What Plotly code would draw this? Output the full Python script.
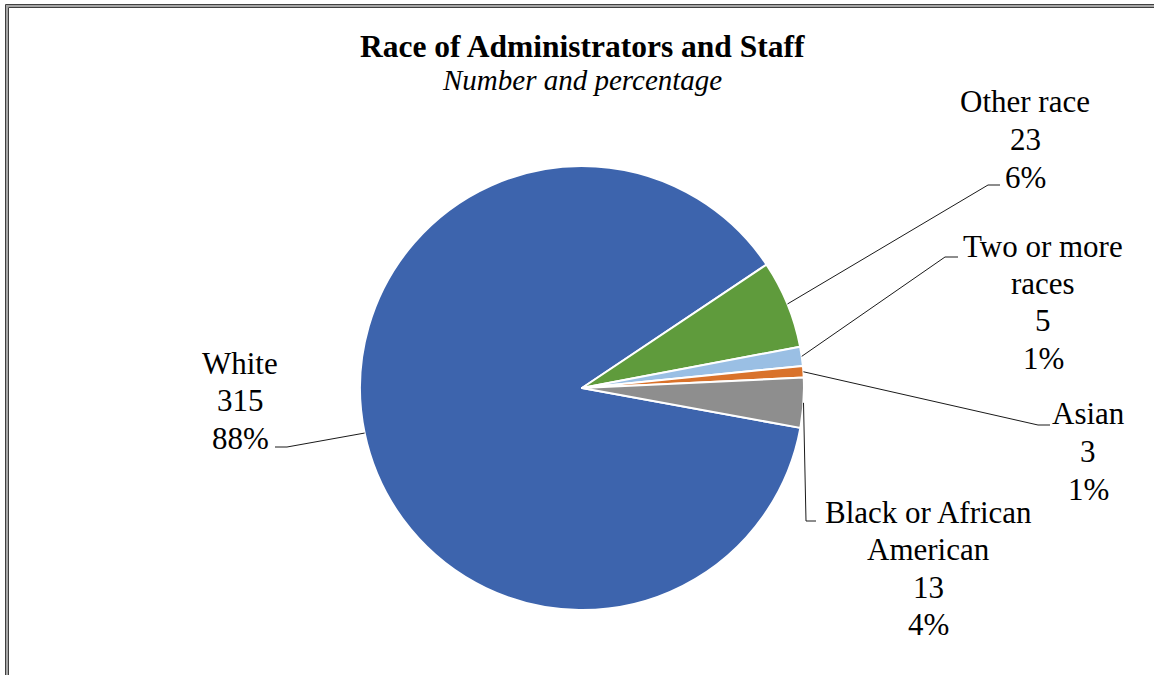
import math
import plotly.graph_objects as go

W, H = 1154, 675

# data
categories = ["White", "Other race", "Two or more races", "Asian", "Black or African American"]
counts = [315, 23, 5, 3, 13]
label_lines = [["White"], ["Other race"], ["Two or more", "races"], ["Asian"], ["Black or African", "American"]]
colors = ["#3D64AD", "#5F9B3C", "#9ABFE4", "#D9722B", "#8E8E8E"]

total = sum(counts)
pcts = [round(v / total * 100) for v in counts]

# pie geometry and label placement (pixels)
cx, cy, r = 582, 388, 222
rotation = 100.35
label_pos = [(240, 363), (1025, 102), (1043, 246), (1088, 414), (928, 512)]
elbows = [((287, 447), (275, 447)), ((988, 185), (1000, 185)), ((945, 257), (958, 257)),
          ((1038, 425), (1050, 425)), ((806, 521), (816, 521))]
line_step = 37.5
FONT = "Liberation Serif, Times New Roman, serif"


def px(x, y):
    return x / W, 1 - y / H


fig = go.Figure()
fig.add_trace(go.Pie(
    labels=categories, values=counts, sort=False, direction="clockwise",
    rotation=rotation, textinfo="none", hoverinfo="label+value+percent",
    marker=dict(colors=colors, line=dict(color="white", width=2)),
    domain=dict(x=[(cx - r) / W, (cx + r) / W], y=[1 - (cy + r) / H, 1 - (cy - r) / H]),
))

annotations = []
shapes = []

# data labels + leader lines
start = rotation
for i, v in enumerate(counts):
    span = 360 * v / total
    mid = math.radians(start + span / 2)
    start += span
    ax, ay = cx + r * math.sin(mid), cy - r * math.cos(mid)
    (ex, ey), (tx, ty) = elbows[i]
    p0, p1, p2 = px(ax, ay), px(ex, ey), px(tx, ty)
    shapes.append(dict(type="path", xref="paper", yref="paper",
                       path=f"M {p0[0]},{p0[1]} L {p1[0]},{p1[1]} L {p2[0]},{p2[1]}",
                       line=dict(color="#1a1a1a", width=1)))
    lines = label_lines[i] + [str(v), f"{pcts[i]}%"]
    lx, ly = label_pos[i]
    for k, t in enumerate(lines):
        x, y = px(lx, ly + k * line_step)
        annotations.append(dict(text=t, x=x, y=y, xref="paper", yref="paper",
                                xanchor="center", yanchor="middle", showarrow=False,
                                font=dict(family=FONT, size=31, color="black")))

# title
tx, ty = px(582, 46)
annotations.append(dict(text="<b>Race of Administrators and Staff</b>", x=tx, y=ty,
                        xref="paper", yref="paper", showarrow=False,
                        xanchor="center", yanchor="middle",
                        font=dict(family=FONT, size=31.5, color="black")))
sx, sy = px(582, 80)
annotations.append(dict(text="<i>Number and percentage</i>", x=sx, y=sy,
                        xref="paper", yref="paper", showarrow=False,
                        xanchor="center", yanchor="middle",
                        font=dict(family=FONT, size=29, color="black")))

# double border (top/left visible, rest runs off the picture)
for x0, y0, col, w in [(7, 6, "#a6a6a6", 2), (5.5, 4.5, "#404040", 1), (8.5, 7.5, "#404040", 1)]:
    a, b = px(x0, y0)
    c, d = px(W + 30, H + 30)
    shapes.append(dict(type="rect", xref="paper", yref="paper", x0=a, y0=b, x1=c, y1=d,
                       line=dict(color=col, width=w), fillcolor="rgba(0,0,0,0)"))

fig.update_layout(
    width=W, height=H, margin=dict(l=0, r=0, t=0, b=0),
    paper_bgcolor="white", plot_bgcolor="white", showlegend=False,
    annotations=annotations, shapes=shapes,
)

# drop the browser's default 8px body margin so the figure sits at the page corner
fig.write_html("out.html", config={"displayModeBar": False},
               post_script="document.body.style.margin='0';document.body.style.overflow='hidden';")
